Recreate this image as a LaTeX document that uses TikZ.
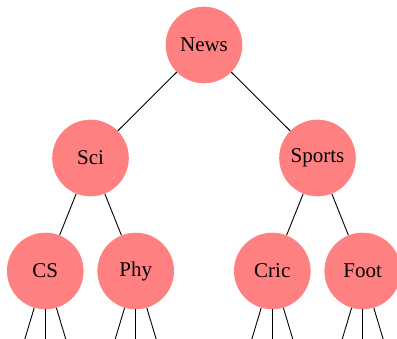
\documentclass[tikz,border=0pt]{standalone}
\usepackage{fontspec}
\setmainfont{Liberation Serif}
\tikzset{
  argomento/.style={circle,fill=red!50,draw=none,minimum size=76.6pt,inner sep=0pt,font=\fontsize{21}{25}\selectfont},
  arco/.style={line width=0.9pt}
}
\begin{document}
\begin{tikzpicture}[x=1pt,y=-1pt]
      \useasboundingbox (0,0) rectangle (397,339);
      \clip (0,0) rectangle (397,339);
      %nodi
      \node[argomento] (news) at (204,45) {News};
      \node[argomento] (sci) at (90.5,158) {Sci};
      \node[argomento] (sports) at (317.5,158) {Sports};
      \node[argomento] (cs) at (45.3,271) {CS};
      \node[argomento] (phy) at (135.7,271) {Phy};
      \node[argomento] (cric) at (272.3,271) {Cric};
      \node[argomento] (foot) at (362.7,271) {Foot};
      %archi
      \draw[arco] (news) -- (sci);
      \draw[arco] (news) -- (sports);
      \draw[arco] (sci) -- (cs);
      \draw[arco] (sci) -- (phy);
      \draw[arco] (sports) -- (cric);
      \draw[arco] (sports) -- (foot);
      %foglie fuori quadro
      \foreach \foglia in {cs,phy,cric,foot}
        \foreach \dx [count=\i] in {-34,0,34} {
          \path (\foglia) ++(\dx,113) coordinate (\foglia-\i);
          \draw[arco] (\foglia) -- (\foglia-\i);
        }
    \end{tikzpicture}
\end{document}
